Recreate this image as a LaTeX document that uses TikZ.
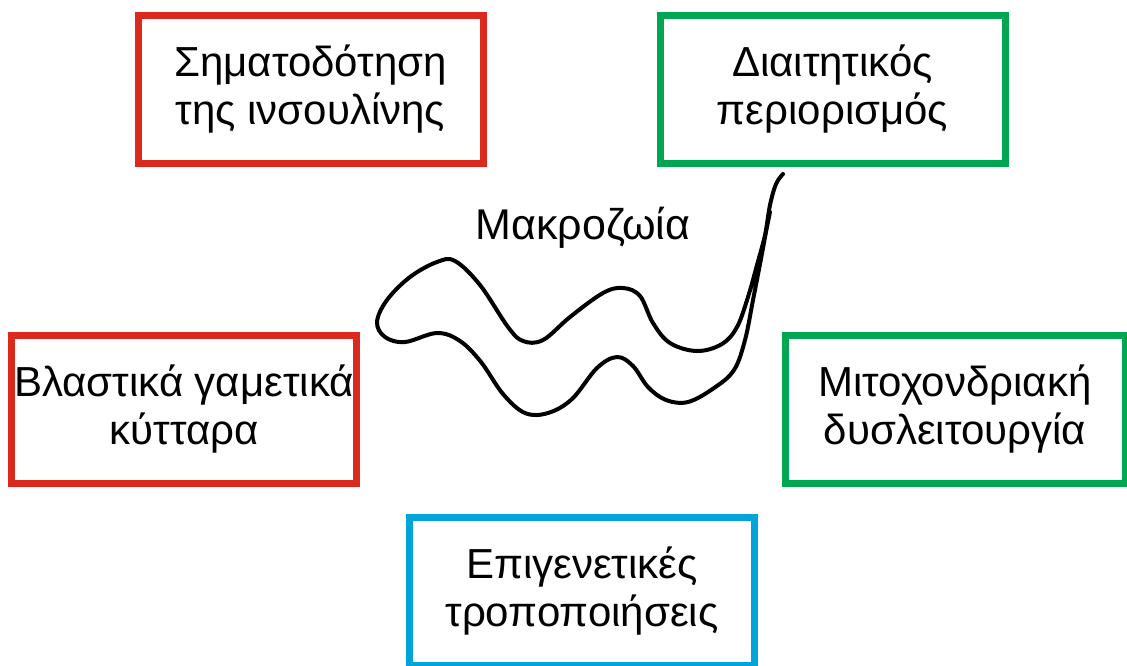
\documentclass[tikz,border=0pt]{standalone}
\usepackage{fontspec}
\setmainfont{Liberation Sans}
\definecolor{boxred}{RGB}{220,41,30}
\definecolor{boxgreen}{RGB}{0,166,81}
\definecolor{boxblue}{RGB}{0,163,218}

\begin{document}
\begin{tikzpicture}[x=1pt,y=-1pt,
    factor/.style={draw=#1,line width=7pt,text=black,align=center,inner sep=0pt,
      minimum width=345pt,minimum height=148pt,font=\fontsize{42}{48}\selectfont},
    wormline/.style={line width=4pt,line join=round,line cap=round}]
  \useasboundingbox (0,0) rectangle (1127,665);
  \node[factor=boxred] (insulin) at (310.5,89.5) {Σηματοδότηση\\της ινσουλίνης};
  \node[factor=boxgreen] (diet) at (832.5,89.5) {Διαιτητικός\\περιορισμός};
  \node[factor=boxred] (germ) at (184,409.5) {Βλαστικά γαμετικά\\κύτταρα};
  \node[factor=boxgreen,minimum width=340pt] (mito) at (955,409.5) {Μιτοχονδριακή\\δυσλειτουργία};
  \node[factor=boxblue] (epi) at (582,591.5) {Επιγενετικές\\τροποποιήσεις};
  % the worm
  \draw[wormline] plot[smooth,tension=0.6] coordinates {
    (783,174) (776,184) (770,205) (765,235) (757,265) (748,297) (737,327)
    (722,344) (697,351) (670,343) (653,323) (640,296) (623,288) (603,293)
    (570,317) (543,340) (523,341) (508,327) (480,285) (455,261) (437,262)
    (410,277) (387,300) (377,322) (385,337) (405,342) (437,333) (460,341)
    (481,362) (503,394) (525,413) (548,413) (572,399) (597,368) (617,357)
    (633,366) (648,387) (666,400) (688,402) (714,388) (734,370) (745,340)
    (753,300) (760,264) (766,232) (770,212)};
  \node[font=\fontsize{43}{48}\selectfont] (longevity) at (583,228) {Μακροζωία};
\end{tikzpicture}
\end{document}
